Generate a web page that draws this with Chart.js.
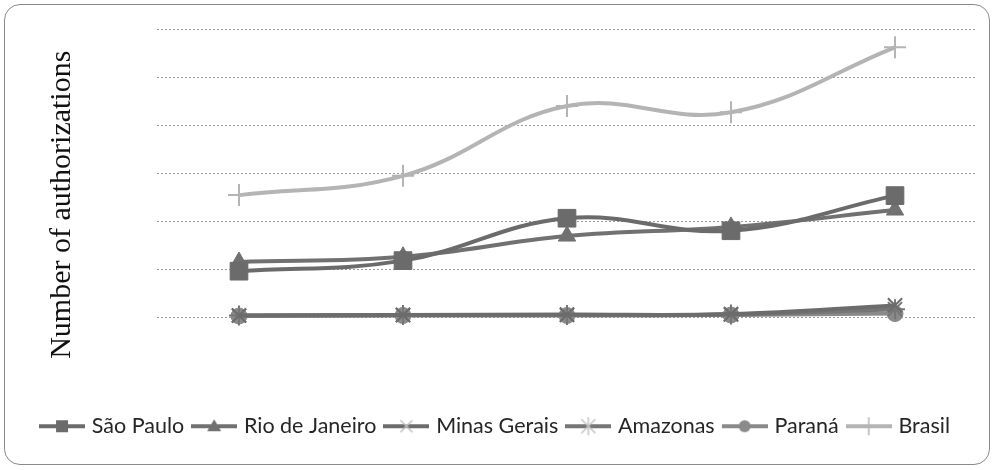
<!DOCTYPE html>
<html>
<head>
<meta charset="utf-8">
<script src="https://cdn.jsdelivr.net/npm/chart.js@4/dist/chart.umd.min.js"></script>
<style>
  html, body { margin: 0; padding: 0; background: #fff; }
  #wrap { position: relative; width: 995px; height: 470px; }
  #frame {
    position: absolute; left: 4px; top: 4px; width: 984px; height: 459px;
    border: 1.5px solid #8a8a8a; border-radius: 16px; pointer-events: none;
  }
  canvas { position: absolute; left: 0; top: 0; }
</style>
</head>
<body>
<div id="wrap">
  <canvas id="chart" width="995" height="470"></canvas>
  <div id="frame"></div>
</div>
<script>
// Categories (unlabelled periods along the horizontal axis)
const categories = ['1', '2', '3', '4', '5'];

// Series values, in gridline units
const saoPaulo   = [1.97, 2.19, 3.07, 2.81, 3.54];
const rioJaneiro = [2.16, 2.27, 2.70, 2.89, 3.24];
const minasGerais = [1.05, 1.06, 1.07, 1.08, 1.26];
const amazonas   = [1.05, 1.06, 1.06, 1.07, 1.18];
const parana     = [1.04, 1.05, 1.05, 1.06, 1.09];
const brasil     = [3.55, 3.95, 5.40, 5.27, 6.62];

const seriesNames = ['São Paulo', 'Rio de Janeiro', 'Minas Gerais', 'Amazonas', 'Paraná', 'Brasil'];
const yTitle = 'Number of authorizations';

// Small legend icon: a line segment with the series marker in the middle
function legendIcon(style, lineColor, markColor) {
  const c = document.createElement('canvas');
  c.width = 46; c.height = 20;
  const g = c.getContext('2d');
  g.strokeStyle = lineColor; g.lineWidth = 4;
  g.beginPath(); g.moveTo(0, 10); g.lineTo(46, 10); g.stroke();
  g.fillStyle = markColor; g.strokeStyle = markColor; g.lineWidth = 1.5;
  const cx = 23, cy = 10;
  if (style === 'rect') { g.fillRect(cx - 6, cy - 6, 12, 12); }
  else if (style === 'triangle') {
    g.beginPath(); g.moveTo(cx, cy - 7); g.lineTo(cx + 7, cy + 5); g.lineTo(cx - 7, cy + 5); g.closePath(); g.fill();
  } else if (style === 'circle') { g.beginPath(); g.arc(cx, cy, 6, 0, Math.PI * 2); g.fill(); }
  else if (style === 'crossRot') {
    g.beginPath(); g.moveTo(cx - 6, cy - 6); g.lineTo(cx + 6, cy + 6); g.moveTo(cx + 6, cy - 6); g.lineTo(cx - 6, cy + 6); g.stroke();
  } else if (style === 'star') {
    g.beginPath(); g.moveTo(cx - 7, cy - 7); g.lineTo(cx + 7, cy + 7); g.moveTo(cx + 7, cy - 7); g.lineTo(cx - 7, cy + 7);
    g.moveTo(cx, cy - 9); g.lineTo(cx, cy + 9); g.stroke();
  } else if (style === 'cross') {
    g.beginPath(); g.moveTo(cx, cy - 9); g.lineTo(cx, cy + 9); g.stroke();
  }
  return c;
}

const styles = [
  { data: saoPaulo,    color: '#6b6b6b', point: 'rect',     radius: 12.5, bw: 1 },
  { data: rioJaneiro,  color: '#717171', point: 'triangle', radius: 10,   bw: 1 },
  { data: minasGerais, color: '#6c6c6c', point: 'crossRot', radius: 10,   bw: 2 },
  { data: amazonas,    color: '#767676', point: 'star',     radius: 10,   bw: 2 },
  { data: parana,      color: '#8a8a8a', point: 'circle',   radius: 8,    bw: 1 },
  { data: brasil,      color: '#b4b4b4', point: 'cross',    radius: 11,   bw: 2 }
];
const legendMarks = [
  legendIcon('rect', '#6b6b6b', '#6b6b6b'),
  legendIcon('triangle', '#717171', '#717171'),
  legendIcon('crossRot', '#6c6c6c', '#c0c0c0'),
  legendIcon('star', '#767676', '#c4c4c4'),
  legendIcon('circle', '#8a8a8a', '#8a8a8a'),
  legendIcon('cross', '#b4b4b4', '#b4b4b4')
];

const datasets = styles.map((s, i) => ({
  label: seriesNames[i],
  data: s.data,
  borderColor: s.color,
  backgroundColor: s.color,
  borderWidth: 4,
  tension: 0.4,
  pointStyle: s.point,
  pointRadius: s.radius,
  pointHoverRadius: s.radius,
  pointBorderWidth: s.bw,
  pointBackgroundColor: s.color,
  pointBorderColor: s.color,
  fill: false
}));

new Chart(document.getElementById('chart'), {
  type: 'line',
  data: { labels: categories, datasets },
  options: {
    responsive: false,
    animation: false,
    layout: { padding: { left: 16, right: 18, top: 29, bottom: 23 } },
    scales: {
      x: {
        offset: true,
        ticks: { display: false },
        grid: { display: false, offset: true },
        border: { display: false },
        afterFit: (scale) => { scale.height = 24; }
      },
      y: {
        min: -0.3,
        max: 7,
        ticks: { display: false, stepSize: 1 },
        grid: {
          drawTicks: false,
          color: (ctx) => (ctx.tick && ctx.tick.value >= 1 ? '#9a9a9a' : 'rgba(0,0,0,0)'),
          lineWidth: 1
        },
        border: { display: false, dash: [2, 2] },
        title: {
          display: true,
          text: yTitle,
          color: '#111',
          font: { family: '"Liberation Serif", "Times New Roman", serif', size: 30 },
          padding: { top: 28, bottom: 4 }
        },
        afterFit: (scale) => { scale.width = 141; }
      }
    },
    plugins: {
      legend: {
        position: 'bottom',
        labels: {
          usePointStyle: true,
          pointStyleWidth: 38,
          padding: 11,
          color: '#262626',
          font: { family: 'Lato, "Open Sans", sans-serif', size: 21.5 },
          generateLabels: (chart) => chart.data.datasets.map((d, i) => ({
            text: d.label,
            pointStyle: legendMarks[i],
            fillStyle: d.borderColor,
            strokeStyle: d.borderColor,
            lineWidth: 0,
            fontColor: '#262626',
            hidden: false,
            datasetIndex: i
          }))
        }
      },
      tooltip: { enabled: false }
    }
  }
});
</script>
</body>
</html>
